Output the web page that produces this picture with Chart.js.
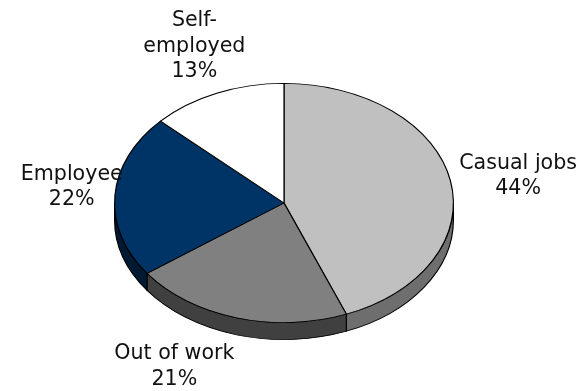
<!DOCTYPE html>
<html>
<head>
<meta charset="utf-8">
<script src="https://cdn.jsdelivr.net/npm/chart.js@4/dist/chart.umd.min.js"></script>
<style>
  html, body { margin: 0; padding: 0; background: #ffffff; }
  #wrap { width: 583px; height: 391px; position: relative; }
</style>
</head>
<body>
<div id="wrap"><canvas id="chart" width="583" height="391"></canvas></div>
<script>
// Employment situation breakdown (percent)
const categories = ['Casual jobs', 'Out of work', 'Employee', 'Self-employed'];
const shares = [44, 21, 22, 13];

// Slice colours: top face and the darker extruded side
const faceColors = ['#c0c0c0', '#808080', '#003366', '#ffffff'];
const sideColors = ['#6e6e6e', '#404040', '#001a33', '#bfbfbf'];

// Label box centres, in units of the pie's horizontal / vertical radius
const labelOffsets = [[1.382, -0.225], [-0.647, 1.367], [-1.253, -0.133], [-0.529, -1.308]];

const FONT = '20.6px "DejaVu Sans", Verdana, sans-serif';

// Tilts the pie into an ellipse and draws its side walls underneath
const pie3d = {
  id: 'pie3d',
  beforeDatasetsDraw(chart, args, opts) {
    const ctx = chart.ctx;
    const arcs = chart.getDatasetMeta(0).data;
    if (!arcs.length) return;
    const { x, y, outerRadius: r } = arcs[0].getProps(['x', 'y', 'outerRadius'], true);
    const k = opts.tilt;
    const D = opts.depth / k;
    ctx.save();
    ctx.translate(x, y);
    ctx.scale(1, k);
    ctx.translate(-x, -y);
    arcs.forEach((arc, i) => {
      const { startAngle, endAngle } = arc.getProps(['startAngle', 'endAngle'], true);
      // only the front half (0..PI, or 2PI..3PI after wrap) shows a wall
      [[0, Math.PI], [2 * Math.PI, 3 * Math.PI]].forEach(([lo, hi]) => {
        const a = Math.max(startAngle, lo), b = Math.min(endAngle, hi);
        if (b <= a) return;
        ctx.beginPath();
        ctx.arc(x, y, r, a, b);
        ctx.arc(x, y + D, r, b, a, true);
        ctx.closePath();
        ctx.fillStyle = opts.sideColors[i];
        ctx.fill();
        ctx.lineWidth = 1.2;
        ctx.strokeStyle = '#000000';
        ctx.stroke();
      });
    });
  },
  afterDatasetsDraw(chart) {
    chart.ctx.restore();
  }
};

// Category / percentage labels around the pie
const sliceLabels = {
  id: 'sliceLabels',
  afterDraw(chart, args, opts) {
    const ctx = chart.ctx;
    const arcs = chart.getDatasetMeta(0).data;
    if (!arcs.length) return;
    const { x, y, outerRadius: r } = arcs[0].getProps(['x', 'y', 'outerRadius'], true);
    const rx = r, ry = r * opts.tilt;
    const lh = opts.lineHeight;
    ctx.save();
    ctx.font = FONT;
    ctx.fillStyle = '#111111';
    ctx.textAlign = 'center';
    ctx.textBaseline = 'middle';
    categories.forEach((name, i) => {
      const lines = name.includes('-')
        ? [name.slice(0, name.indexOf('-') + 1), name.slice(name.indexOf('-') + 1)]
        : [name];
      lines.push(shares[i] + '%');
      const cx = x + rx * opts.offsets[i][0];
      const cy = y + ry * opts.offsets[i][1];
      const top = cy - (lines.length - 1) * lh / 2;
      lines.forEach((t, j) => ctx.fillText(t, cx, top + j * lh));
    });
    ctx.restore();
  }
};

new Chart(document.getElementById('chart'), {
  type: 'pie',
  data: {
    labels: categories,
    datasets: [{
      data: shares,
      backgroundColor: faceColors,
      borderColor: '#000000',
      borderWidth: 1.2,
      hoverOffset: 0
    }]
  },
  options: {
    responsive: false,
    animation: false,
    events: [],
    layout: { padding: { left: 114, right: 129, top: 33, bottom: 18 } },
    plugins: {
      legend: { display: false },
      tooltip: { enabled: false },
      pie3d: { tilt: 0.706, depth: 17, sideColors: sideColors },
      sliceLabels: { tilt: 0.706, offsets: labelOffsets, lineHeight: 25.5 }
    }
  },
  plugins: [pie3d, sliceLabels]
});
</script>
</body>
</html>
